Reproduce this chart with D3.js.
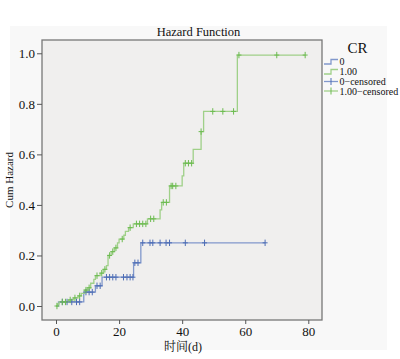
<!DOCTYPE html>
<html><head><meta charset="utf-8">
<script src="https://cdn.jsdelivr.net/npm/d3@7"></script>
<style>body{margin:0;background:#fff}svg{display:block}text{font-family:"Liberation Serif","Noto Serif CJK SC","Noto Sans CJK SC",serif;fill:#111}</style>
</head><body><svg id="c" width="400" height="359"></svg>
<script>
// Data
const groups = ["0", "1.00"];
const stepTimes0 = [0, 0.8, 8.8, 12.5, 14.6, 24.6, 26.9, 66.3];
const stepHaz0   = [0, 0.016, 0.055, 0.08, 0.114, 0.171, 0.25, 0.25];
const censTimes0 = [2, 3.5, 5, 6.5, 7.5, 9.5, 10.5, 11.5, 13, 14, 16, 17, 18, 19, 21.4, 22.5, 23.5, 24.4, 25, 26, 27.5, 29.8, 30.7, 33, 34.9, 36, 41, 47.1, 66.3];
const stepTimes1 = [0, 0.5, 1, 4, 5.5, 7, 8, 9, 10, 11, 12, 12.5, 14, 15, 16, 16.5, 17.5, 18.5, 19.5, 20, 21.5, 22, 23, 24.5, 29, 33, 33.5, 36, 40, 40.5, 43.5, 46, 46.8, 57.5, 79];
const stepHaz1   = [0, 0.008, 0.016, 0.024, 0.032, 0.04, 0.05, 0.063, 0.072, 0.09, 0.105, 0.12, 0.13, 0.145, 0.16, 0.2, 0.215, 0.23, 0.25, 0.265, 0.28, 0.295, 0.31, 0.325, 0.345, 0.38, 0.41, 0.475, 0.515, 0.565, 0.62, 0.69, 0.77, 0.993, 0.993];
const censTimes1 = [0.3, 2, 3, 4.5, 6, 7.5, 9.5, 10.5, 13, 14.5, 15.5, 17, 18, 19, 21, 23.5, 25.5, 26.5, 27.5, 28.5, 30, 31, 34, 35, 36.5, 37, 38, 41, 42, 43, 46, 49.7, 52.9, 56.3, 58, 70, 79];
const xTicks = [0, 20, 40, 60, 80];
const yTicks = [0, 0.2, 0.4, 0.6, 0.8, 1.0];
const legendLabels = ["0", "1.00", "0\u2212censored", "1.00\u2212censored"];

const lineColors = ["#8198cc", "#9fd088"];
const markColors = ["#4d6db5", "#6cbb50"];

const svg = d3.select("#c");
svg.append("rect").attr("x",10).attr("y",26).attr("width",377).attr("height",324).attr("fill","#f8f8f8");
const L=42,R=322,T=40,B=320;
svg.append("rect").attr("x",L).attr("y",T).attr("width",R-L).attr("height",B-T).attr("fill","#f0efee");

const x = d3.scaleLinear().domain([-4.44, 84.34]).range([L, R]);
const y = d3.scaleLinear().domain([-0.0554, 1.0526]).range([B, T]);

const series = [
  {t: stepTimes0, h: stepHaz0, c: censTimes0},
  {t: stepTimes1, h: stepHaz1, c: censTimes1}
];
const line = d3.line().x(d=>x(d[0])).y(d=>y(d[1])).curve(d3.curveStepAfter);
function hazAt(s, t){ let v=0; for(let i=0;i<s.t.length;i++){ if(s.t[i]<=t) v=s.h[i]; } return v; }

series.forEach((s,i)=>{
  const pts = s.t.map((t,j)=>[t, s.h[j]]);
  svg.append("path").attr("d", line(pts)).attr("fill","none").attr("stroke", lineColors[i]).attr("stroke-width",1.3);
});
series.forEach((s,i)=>{
  const g = svg.append("g").attr("stroke", markColors[i]).attr("stroke-width",1);
  s.c.forEach(t=>{
    const cx=x(t), cy=y(hazAt(s,t));
    g.append("line").attr("x1",cx).attr("x2",cx).attr("y1",cy-3.2).attr("y2",cy+3.2);
    g.append("line").attr("x1",cx-2.5).attr("x2",cx+2.5).attr("y1",cy).attr("y2",cy);
  });
});

svg.append("rect").attr("x",L).attr("y",T).attr("width",R-L).attr("height",B-T).attr("fill","none").attr("stroke","#777").attr("stroke-width",1.3);

const yAxis = d3.axisLeft(y).tickValues(yTicks).tickFormat(d3.format(".1f")).tickSize(5).tickPadding(2);
const gy = svg.append("g").attr("transform",`translate(${L},0)`).call(yAxis);
const xAxis = d3.axisBottom(x).tickValues(xTicks).tickFormat(d3.format("d")).tickSize(4).tickPadding(3);
const gx = svg.append("g").attr("transform",`translate(0,${B})`).call(xAxis);
[gy,gx].forEach(g=>{ g.select(".domain").remove(); g.selectAll("line").attr("stroke","#555"); g.selectAll("text").attr("font-size",13).attr("font-family","Liberation Serif").attr("fill","#111"); });

svg.append("text").attr("x",198.5).attr("y",35.5).attr("text-anchor","middle").attr("font-size",12.5).text("Hazard Function");
svg.append("text").attr("transform","translate(13,180) rotate(-90)").attr("text-anchor","middle").attr("font-size",11).text("Cum Hazard");
svg.append("text").attr("x",183).attr("y",351).attr("text-anchor","middle").attr("font-size",12).text("时间(d)");

// Legend
svg.append("text").attr("x",357.5).attr("y",53).attr("text-anchor","middle").attr("font-size",15).text("CR");
const ly = [61.5, 71.5, 81.5, 91];
legendLabels.forEach((lab,i)=>{
  const g = svg.append("g");
  const yy = ly[i];
  if(i<2){
    g.append("path").attr("d",`M324,${yy+2.5}H331V${yy-2}H338`).attr("fill","none").attr("stroke",lineColors[i]).attr("stroke-width",1.3);
  } else {
    g.append("line").attr("x1",324).attr("x2",338).attr("y1",yy).attr("y2",yy).attr("stroke",lineColors[i-2]).attr("stroke-width",1.3);
    g.append("line").attr("x1",331).attr("x2",331).attr("y1",yy-3.5).attr("y2",yy+3.5).attr("stroke",markColors[i-2]).attr("stroke-width",1);
  }
  g.append("text").attr("x",339.5).attr("y",yy+3.5).attr("font-size",10).text(lab);
});
</script></body></html>
